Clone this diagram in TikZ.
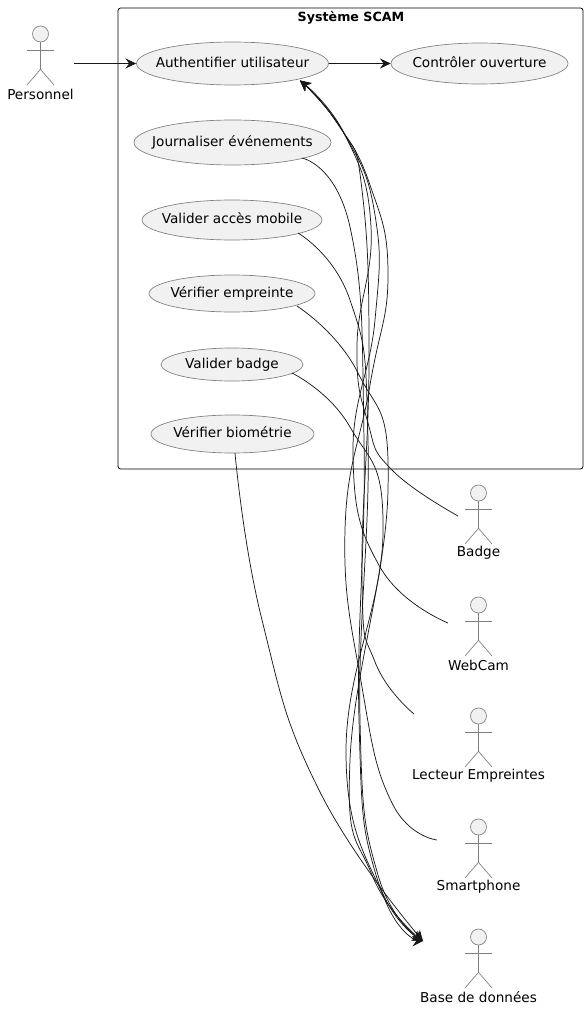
\documentclass[tikz,border=0pt]{standalone}
\usepackage{fontspec}
\setmainfont{DejaVu Sans}
\usetikzlibrary{arrows.meta,shapes.geometric}
\definecolor{ucfill}{HTML}{F1F1F1}
\definecolor{ucline}{HTML}{7F7F7F}
\definecolor{ink}{HTML}{181818}
\newcommand{\uctext}[1]{\makebox[0pt]{\smash{\raisebox{-2.7pt}{#1}}}}
\tikzset{
  usecase/.style={ellipse,draw=ucline,fill=ucfill,line width=.5pt,inner sep=0pt,font=\fontsize{10.2pt}{12pt}\selectfont,text=black},
  acthead/.style={circle,draw=ucline,fill=ucfill,line width=.5pt,minimum size=12pt,inner sep=0pt},
  actbody/.style={draw=ucline,line width=.5pt},
  actlabel/.style={font=\fontsize{10.2pt}{12pt}\selectfont,text=black},
  link/.style={draw=ink,line width=.55pt,-{Stealth[length=8pt,width=7.5pt,inset=2.8pt]}},
}
\begin{document}
\begin{tikzpicture}[x=0.75pt,y=-0.75pt]
 \useasboundingbox (0,0) rectangle (588,1009);
 % system box
 \node[draw=black,line width=.6pt,rounded corners=2pt,minimum width=348.75pt,minimum height=345.75pt,inner sep=0pt] (scam) at (350.5,238.5) {};
 \node[font=\fontsize{9.5pt}{11pt}\selectfont\bfseries] (scamtitle) at (351,18) {Système SCAM};
 % use cases
 \node[usecase,minimum width=144pt,minimum height=32.25pt] (auth) at (232.5,63.5) {\uctext{Authentifier utilisateur}};
 \node[usecase,minimum width=132.75pt,minimum height=30.75pt] (controle) at (479.5,63.5) {\uctext{Contrôler ouverture}};
 \node[usecase,minimum width=147.75pt,minimum height=33.75pt] (journal) at (232.5,142.5) {\uctext{Journaliser événements}};
 \node[usecase,minimum width=135pt,minimum height=30pt] (mobile) at (232,220) {\uctext{Valider accès mobile}};
 \node[usecase,minimum width=124.5pt,minimum height=27.75pt] (empreinte) at (232,293.5) {\uctext{Vérifier empreinte}};
 \node[usecase,minimum width=106.5pt,minimum height=24.75pt] (valbadge) at (232,364.5) {\uctext{Valider badge}};
 \node[usecase,minimum width=122.25pt,minimum height=28.5pt] (biometrie) at (232.5,434) {\uctext{Vérifier biométrie}};
 % actors
 \foreach \id/\name/\x/\y in {personnel/Personnel/40.5/34,badge/Badge/478.5/493,webcam/WebCam/478.5/605,lecteur/Lecteur Empreintes/478.5/716,smartphone/Smartphone/478.5/827,base/Base de données/478.5/937}{
   \node[acthead] (\id) at (\x,\y) {};
   \draw[actbody] (\id.south) -- ++(0,27) coordinate (\id hip);
   \draw[actbody] (\x-13.5,\y+16) -- (\x+13.5,\y+16);
   \draw[actbody] (\x-13.5,\y+51) -- (\id hip) -- (\x+13.5,\y+51);
   \node[actlabel] (\id label) at (\x,\y+60) {\name};
 }
 % free ends
 \coordinate (personnelend) at (74,63.5);
 \coordinate (authtip) at (300,80.5);
 \coordinate (basetip) at (423,941);
 \coordinate (badgeend) at (458,516);
 \coordinate (webcamend) at (448,623);
 \coordinate (lecteurend) at (414,714);
 \coordinate (smartphoneend) at (437,840);
 \coordinate (journalstart) at (302,158);
 \coordinate (mobilestart) at (298,233);
 \coordinate (empreintestart) at (297,306);
 \coordinate (valbadgestart) at (292,373);
 \coordinate (biometriestart) at (235,453);
 % straight links
 \draw[link] (personnelend) -- (auth);
 \draw[link] (auth) -- (controle);
 % actors to authentication
 \draw[link] plot[smooth,tension=.8] coordinates {(badgeend) (392,470) (368,423) (357,345) (371,227) (345,135) (authtip)};
 \draw[link] plot[smooth,tension=.8] coordinates {(webcamend) (380,567) (353,455) (375,320) (375,215) (345,135) (authtip)};
 \draw[link] plot[smooth,tension=.8] coordinates {(lecteurend) (375,662) (362,580) (369,360) (362,190) (342,130) (authtip)};
 \draw[link] plot[smooth,tension=.8] coordinates {(smartphoneend) (392,803) (362,687) (345,530) (370,385) (388,275) (370,185) (335,120) (authtip)};
 % use cases to database
 \draw[link] plot[smooth,tension=.8] coordinates {(journalstart) (350,227) (364,440) (359,720) (376,875) (basetip)};
 \draw[link] plot[smooth,tension=.8] coordinates {(mobilestart) (350,300) (368,440) (360,720) (378,875) (basetip)};
 \draw[link] plot[smooth,tension=.8] coordinates {(empreintestart) (358,373) (388,490) (350,760) (372,875) (basetip)};
 \draw[link] plot[smooth,tension=.8] coordinates {(valbadgestart) (350,427) (383,533) (346,753) (385,900) (basetip)};
 \draw[link] plot[smooth,tension=.8] coordinates {(biometriestart) (262,620) (320,792) (basetip)};
\end{tikzpicture}
\end{document}
